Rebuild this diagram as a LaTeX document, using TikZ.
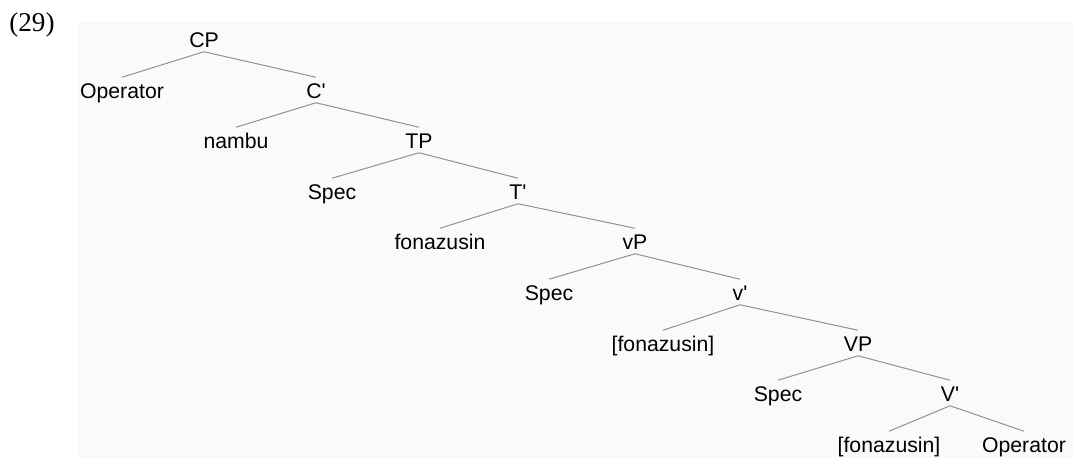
\documentclass[tikz,border=0pt]{standalone}
\usepackage{fontspec}
\setmainfont{Liberation Sans}
\newfontfamily\exfont{Liberation Serif}
\usepackage{tikz}
\definecolor{panel}{HTML}{FAFAFA}
\definecolor{twig}{HTML}{909090}
\tikzstyle{cat} = [inner sep=0pt, text height=14.9pt, text depth=2.85pt, font={\fontsize{15.1}{17}\selectfont}]
\tikzstyle{exno} = [inner sep=0pt, font={\exfont\fontsize{19.3}{22}\selectfont}]
\tikzstyle{branch} = [draw=twig, line width=0.7pt]
\newcommand{\barlev}{\textquotesingle}

\begin{document}
\begin{tikzpicture}[x=0.025cm,y=-0.025cm]
    \useasboundingbox (0,0) rectangle (1073,458);
    \fill[panel] (77,22) rectangle (1073,458);
    \node[exno,anchor=base](ex) at (32,32){(29)};
    \node[cat](cp) at (204,39){CP};
    \node[cat](op1) at (122,90){Operator};
    \node[cat](c1) at (316,90){C\barlev};
    \node[cat](nambu) at (236,140){nambu};
    \node[cat](tp) at (419,140){TP};
    \node[cat](spec1) at (332,191){Spec};
    \node[cat](t1) at (518,191){T\barlev};
    \node[cat](fon1) at (440,241){fonazusin};
    \node[cat](vp1) at (635,241){vP};
    \node[cat](spec2) at (549,292){Spec};
    \node[cat](v1) at (740,292){v\barlev};
    \node[cat](fon2) at (663,343){[fonazusin]};
    \node[cat](vp2) at (858,343){VP};
    \node[cat](spec3) at (778,393){Spec};
    \node[cat](v2) at (950,393){V\barlev};
    \node[cat](fon3) at (889,444){[fonazusin]};
    \node[cat](op2) at (1024,444){Operator};
    \draw[branch](cp.south)--(op1.north);
    \draw[branch](cp.south)--(c1.north);
    \draw[branch](c1.south)--(nambu.north);
    \draw[branch](c1.south)--(tp.north);
    \draw[branch](tp.south)--(spec1.north);
    \draw[branch](tp.south)--(t1.north);
    \draw[branch](t1.south)--(fon1.north);
    \draw[branch](t1.south)--(vp1.north);
    \draw[branch](vp1.south)--(spec2.north);
    \draw[branch](vp1.south)--(v1.north);
    \draw[branch](v1.south)--(fon2.north);
    \draw[branch](v1.south)--(vp2.north);
    \draw[branch](vp2.south)--(spec3.north);
    \draw[branch](vp2.south)--(v2.north);
    \draw[branch](v2.south)--(fon3.north);
    \draw[branch](v2.south)--(op2.north);
  \end{tikzpicture}
\end{document}
